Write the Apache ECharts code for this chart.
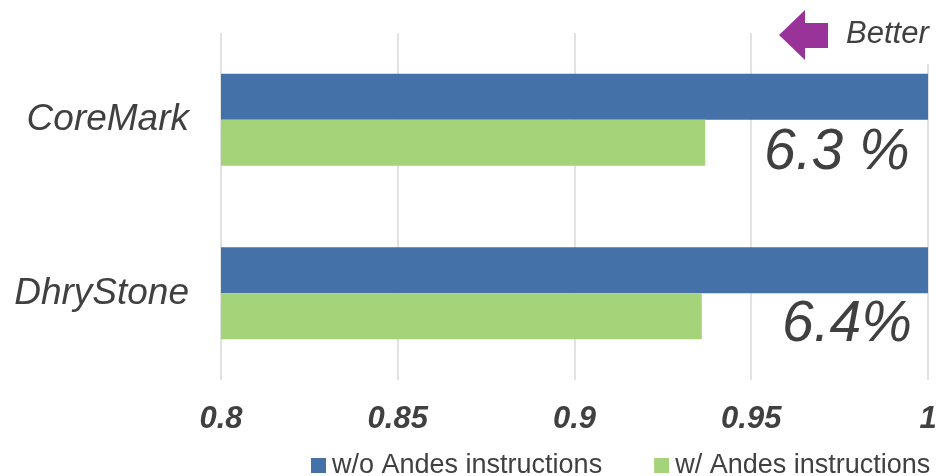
<!DOCTYPE html>
<html>
<head>
<meta charset="utf-8">
<script src="https://cdn.jsdelivr.net/npm/echarts@6/dist/echarts.min.js"></script>
<style>
html,body{margin:0;padding:0;background:#fff;}
#chart{width:942px;height:476px;}
</style>
</head>
<body>
<div id="chart"></div>
<script>
const categories = ['CoreMark', 'DhryStone'];
const seriesNames = ['w/o Andes instructions', 'w/ Andes instructions'];
const withoutAndes = [1.0, 1.0];
const withAndes = [0.937, 0.936];
const tickLabels = ['0.8', '0.85', '0.9', '0.95', '1'];
const annotations = ['6.3 %', '6.4%'];

const FONT = '"Liberation Sans", Arial, Helvetica, sans-serif';
const TXT = '#404040';

const chart = echarts.init(document.getElementById('chart'));
chart.setOption({
  animation: false,
  backgroundColor: '#ffffff',
  grid: { left: 221, right: 14, top: 33, bottom: 96, containLabel: false },
  xAxis: {
    type: 'value',
    min: 0.8, max: 1.0, interval: 0.05,
    axisLine: { show: false },
    axisTick: { show: false },
    splitLine: { show: true, lineStyle: { color: '#d9d9d9', width: 1.5 } },
    axisLabel: {
      margin: 24,
      fontSize: 31, fontWeight: 'bold', fontStyle: 'italic', color: TXT, fontFamily: FONT,
      formatter: function (v) {
        const i = Math.round((v - 0.8) / 0.05);
        return tickLabels[i] !== undefined ? tickLabels[i] : '';
      }
    }
  },
  yAxis: {
    type: 'category',
    data: categories,
    inverse: true,
    axisLine: { show: false },
    axisTick: { show: false },
    splitLine: { show: false },
    axisLabel: { margin: 32, fontSize: 37, fontStyle: 'italic', color: TXT, fontFamily: FONT }
  },
  legend: {
    left: 306, top: 447,
    icon: 'rect', itemWidth: 15, itemHeight: 15, itemGap: 52,
    textStyle: { fontSize: 27, color: TXT, fontFamily: FONT, padding: [0, 0, 0, 1] },
    data: seriesNames
  },
  series: [
    {
      name: seriesNames[0], type: 'bar', data: withoutAndes,
      barWidth: 46, barGap: '0%',
      itemStyle: { color: '#4571a9' }
    },
    {
      name: seriesNames[1], type: 'bar', data: withAndes,
      barWidth: 46, barGap: '0%',
      itemStyle: { color: '#a5d37a' }
    }
  ],
  graphic: [
    { type: 'rect', shape: { x: 915, y: 28, width: 27, height: 36 }, style: { fill: '#ffffff' }, z: 10 },
    {
      type: 'polygon', z: 11,
      shape: { points: [[779, 35], [805, 10], [805, 23], [828, 23], [828, 48], [805, 48], [805, 60]] },
      style: { fill: '#993399' }
    },
    {
      type: 'text', z: 11, left: 846, top: 19,
      style: { text: 'Better', fontSize: 31, fontStyle: 'italic', fill: TXT, fontFamily: FONT }
    },
    {
      type: 'text', z: 11, left: 764, top: 125,
      style: { text: annotations[0], fontSize: 57, fontStyle: 'italic', fill: TXT, fontFamily: FONT }
    },
    {
      type: 'text', z: 11, left: 782, top: 297,
      style: { text: annotations[1], fontSize: 57, fontStyle: 'italic', fill: TXT, fontFamily: FONT }
    }
  ]
});
</script>
</body>
</html>
